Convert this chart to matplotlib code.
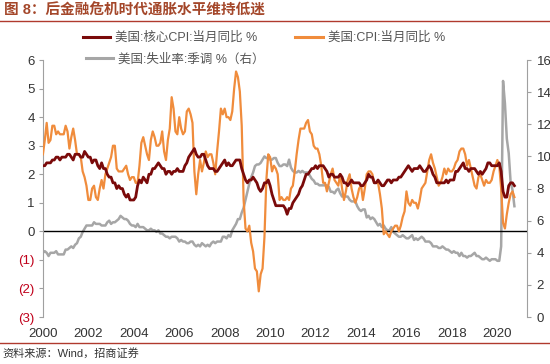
import numpy as np
import matplotlib.pyplot as plt
from matplotlib.lines import Line2D

plt.rcParams['font.family'] = ['Liberation Sans', 'Noto Sans CJK SC']

# monthly data, Jan 2000 - Oct 2020
cpi = [2.7, 3.2, 3.8, 3.1, 3.2, 3.7, 3.7, 3.4, 3.5, 3.4, 3.4, 3.4,
       3.7, 3.5, 2.9, 3.3, 3.6, 3.2, 2.7, 2.7, 2.6, 2.1, 1.9, 1.6,
       1.1, 1.1, 1.5, 1.6, 1.2, 1.1, 1.5, 1.8, 1.5, 2.0, 2.2, 2.4,
       2.6, 3.0, 3.0, 2.2, 2.1, 2.1, 2.1, 2.2, 2.3, 2.0, 1.8, 1.9,
       1.9, 1.7, 1.7, 2.3, 3.1, 3.3, 3.0, 2.7, 2.5, 3.2, 3.5, 3.3,
       3.0, 3.0, 3.1, 3.5, 2.8, 2.5, 3.2, 3.6, 4.7, 4.3, 3.5, 3.4,
       4.0, 3.6, 3.4, 3.5, 4.2, 4.3, 4.1, 3.8, 2.1, 1.3, 2.0, 2.5,
       2.1, 2.4, 2.8, 2.6, 2.7, 2.7, 2.4, 2.0, 2.8, 3.5, 4.3, 4.1,
       4.3, 4.0, 4.0, 3.9, 4.2, 5.0, 5.6, 5.4, 4.9, 3.7, 1.1, 0.1,
       0.0, 0.2, -0.4, -0.7, -1.3, -1.4, -2.1, -1.5, -1.3, -0.2, 1.8, 2.7,
       2.6, 2.1, 2.3, 2.2, 2.0, 1.1, 1.2, 1.1, 1.1, 1.2, 1.1, 1.5,
       1.6, 2.1, 2.7, 3.2, 3.6, 3.6, 3.6, 3.8, 3.9, 3.5, 3.4, 3.0,
       2.9, 2.9, 2.7, 2.3, 1.7, 1.7, 1.4, 1.7, 2.0, 2.2, 1.8, 1.7,
       1.6, 2.0, 1.5, 1.1, 1.4, 1.8, 2.0, 1.5, 1.2, 1.0, 1.2, 1.5,
       1.6, 1.1, 1.5, 2.0, 2.1, 2.1, 2.0, 1.7, 1.7, 1.7, 1.3, 0.8,
       -0.1, 0.0, -0.1, -0.2, 0.0, 0.1, 0.2, 0.2, 0.0, 0.2, 0.5, 0.7,
       1.4, 1.0, 0.9, 1.1, 1.0, 1.0, 0.8, 1.1, 1.5, 1.6, 1.7, 2.1,
       2.5, 2.7, 2.4, 2.2, 1.9, 1.6, 1.7, 1.9, 2.2, 2.0, 2.2, 2.1,
       2.1, 2.2, 2.4, 2.5, 2.8, 2.9, 2.9, 2.7, 2.3, 2.5, 2.2, 1.9,
       1.6, 1.5, 1.9, 2.0, 1.8, 1.6, 1.8, 1.7, 1.7, 1.8, 2.1, 2.3,
       2.5, 2.3, 1.5, 0.3, 0.1, 0.6, 1.0, 1.3, 1.4, 1.2]

core = [2.3, 2.3, 2.4, 2.4, 2.4, 2.5, 2.5, 2.6, 2.6, 2.5, 2.6, 2.6,
        2.6, 2.7, 2.7, 2.6, 2.5, 2.7, 2.7, 2.7, 2.6, 2.6, 2.8, 2.7,
        2.6, 2.6, 2.4, 2.5, 2.5, 2.3, 2.2, 2.4, 2.2, 2.2, 2.0, 1.9,
        1.9, 1.7, 1.7, 1.5, 1.6, 1.5, 1.5, 1.3, 1.2, 1.3, 1.1, 1.1,
        1.1, 1.2, 1.6, 1.8, 1.7, 1.9, 1.8, 1.7, 2.0, 2.0, 2.2, 2.2,
        2.3, 2.4, 2.3, 2.2, 2.2, 2.0, 2.1, 2.1, 2.0, 2.1, 2.1, 2.2,
        2.1, 2.1, 2.1, 2.3, 2.4, 2.6, 2.7, 2.8, 2.9, 2.7, 2.6, 2.6,
        2.7, 2.7, 2.5, 2.3, 2.2, 2.2, 2.2, 2.1, 2.1, 2.2, 2.3, 2.4,
        2.5, 2.3, 2.4, 2.3, 2.3, 2.4, 2.5, 2.5, 2.5, 2.2, 2.0, 1.8,
        1.7, 1.8, 1.8, 1.9, 1.8, 1.7, 1.5, 1.4, 1.5, 1.7, 1.7, 1.8,
        1.6, 1.3, 1.1, 0.9, 0.9, 0.9, 0.9, 0.9, 0.8, 0.6, 0.8, 0.8,
        1.0, 1.1, 1.2, 1.3, 1.5, 1.6, 1.8, 2.0, 2.0, 2.1, 2.2, 2.2,
        2.3, 2.2, 2.3, 2.3, 2.3, 2.2, 2.1, 1.9, 2.0, 2.0, 1.9, 1.9,
        1.9, 2.0, 1.9, 1.7, 1.7, 1.6, 1.7, 1.8, 1.7, 1.7, 1.7, 1.7,
        1.6, 1.6, 1.7, 1.8, 2.0, 1.9, 1.9, 1.7, 1.7, 1.8, 1.7, 1.6,
        1.6, 1.7, 1.8, 1.8, 1.7, 1.8, 1.8, 1.8, 1.9, 1.9, 2.0, 2.1,
        2.2, 2.3, 2.2, 2.1, 2.2, 2.2, 2.2, 2.3, 2.2, 2.1, 2.1, 2.2,
        2.3, 2.2, 2.0, 1.9, 1.7, 1.7, 1.7, 1.7, 1.7, 1.8, 1.7, 1.8,
        1.8, 1.8, 2.1, 2.1, 2.2, 2.3, 2.4, 2.2, 2.2, 2.1, 2.2, 2.2,
        2.2, 2.1, 2.0, 2.1, 2.0, 2.1, 2.2, 2.4, 2.4, 2.3, 2.3, 2.3,
        2.3, 2.4, 2.1, 1.4, 1.2, 1.2, 1.6, 1.7, 1.7, 1.6]

unemp = [4.0, 4.1, 4.0, 3.8, 4.0, 4.0, 4.0, 4.1, 3.9, 3.9, 3.9, 3.9,
         4.2, 4.2, 4.3, 4.4, 4.3, 4.5, 4.6, 4.9, 5.0, 5.3, 5.5, 5.7,
         5.7, 5.7, 5.7, 5.9, 5.8, 5.8, 5.8, 5.7, 5.7, 5.7, 5.9, 6.0,
         5.8, 5.9, 5.9, 6.0, 6.1, 6.3, 6.2, 6.1, 6.1, 6.0, 5.8, 5.7,
         5.7, 5.6, 5.8, 5.6, 5.6, 5.6, 5.5, 5.4, 5.4, 5.5, 5.4, 5.4,
         5.3, 5.4, 5.2, 5.2, 5.1, 5.0, 5.0, 4.9, 5.0, 5.0, 5.0, 4.9,
         4.7, 4.8, 4.7, 4.7, 4.6, 4.6, 4.7, 4.7, 4.5, 4.4, 4.5, 4.4,
         4.6, 4.5, 4.4, 4.5, 4.4, 4.6, 4.7, 4.6, 4.7, 4.7, 4.7, 5.0,
         5.0, 4.9, 5.1, 5.0, 5.4, 5.6, 5.8, 6.1, 6.1, 6.5, 6.8, 7.3,
         7.8, 8.3, 8.7, 9.0, 9.4, 9.5, 9.5, 9.6, 9.8, 10.0, 9.9, 9.9,
         9.8, 9.8, 9.9, 9.9, 9.6, 9.4, 9.4, 9.5, 9.5, 9.4, 9.8, 9.3,
         9.1, 9.0, 9.0, 9.1, 9.0, 9.1, 9.0, 9.0, 9.0, 8.8, 8.6, 8.5,
         8.3, 8.3, 8.2, 8.2, 8.2, 8.2, 8.2, 8.1, 7.8, 7.8, 7.7, 7.9,
         8.0, 7.7, 7.5, 7.6, 7.5, 7.5, 7.3, 7.2, 7.2, 7.2, 6.9, 6.7,
         6.6, 6.7, 6.7, 6.2, 6.3, 6.1, 6.2, 6.1, 5.9, 5.7, 5.8, 5.6,
         5.7, 5.5, 5.4, 5.4, 5.6, 5.3, 5.2, 5.1, 5.0, 5.0, 5.1, 5.0,
         4.9, 4.9, 5.0, 5.1, 4.8, 4.9, 4.8, 4.9, 5.0, 4.9, 4.7, 4.7,
         4.7, 4.6, 4.4, 4.4, 4.4, 4.3, 4.3, 4.4, 4.3, 4.2, 4.2, 4.1,
         4.0, 4.1, 4.0, 4.0, 3.8, 4.0, 3.8, 3.8, 3.7, 3.8, 3.8, 3.9,
         4.0, 3.8, 3.8, 3.7, 3.6, 3.6, 3.7, 3.6, 3.5, 3.6, 3.6, 3.6,
         3.5, 3.5, 4.4, 14.7, 13.3, 11.1, 10.2, 8.4, 7.9, 6.9]

year_ticks = list(range(2000, 2021, 2))
left_ticks = [-3, -2, -1, 0, 1, 2, 3, 4, 5, 6]
left_labels = ['(3)', '(2)', '(1)', '0', '1', '2', '3', '4', '5', '6']
right_ticks = [0, 2, 4, 6, 8, 10, 12, 14, 16]

t = 2000 + np.arange(len(cpi)) / 12.0

c_core = '#7a0a0a'
c_cpi = '#f08c3c'
c_un = '#a6a6a6'
c_axis = '#a0a0a0'
c_text = '#333333'
c_red = '#b03a2e'

fig = plt.figure(figsize=(5.5, 3.64), dpi=100)
ax = fig.add_axes([0.078, 0.129, 0.88, 0.706])
ax2 = ax.twinx()

ax2.plot(t, unemp, color=c_un, lw=1.8, zorder=1)
ax.axhline(0, color='black', lw=1.0, zorder=2)
ax.plot(t, core, color=c_core, lw=2.0, zorder=4)
ax.plot(t, cpi, color=c_cpi, lw=1.6, zorder=3)
ax.set_zorder(ax2.get_zorder() + 1)
ax.patch.set_visible(False)

ax.set_xlim(2000, 2021.3)
ax.set_ylim(-3, 6)
ax2.set_ylim(0, 16)

ax.set_xticks(year_ticks)
ax.set_xticklabels([str(y) for y in year_ticks])
ax.set_yticks(left_ticks)
ax.set_yticklabels(left_labels)
for lbl, v in zip(ax.get_yticklabels(), left_ticks):
    lbl.set_color('#c0001a' if v < 0 else c_text)
ax2.set_yticks(right_ticks)

for a in (ax, ax2):
    for s in ('top', 'bottom'):
        a.spines[s].set_visible(False)
    a.spines['left'].set_color(c_axis)
    a.spines['right'].set_color(c_axis)
ax.spines['right'].set_visible(False)
ax2.spines['left'].set_visible(False)

ax.tick_params(axis='x', length=0, labelsize=9.5, colors=c_text, pad=8)
ax.tick_params(axis='y', length=3, color=c_axis, labelsize=9.5, pad=3)
ax2.tick_params(axis='y', length=3, color=c_axis, labelsize=9.5, labelcolor=c_text, pad=4)

# legend
h1 = Line2D([], [], color=c_core, lw=2.2)
h2 = Line2D([], [], color=c_cpi, lw=2.2)
h3 = Line2D([], [], color=c_un, lw=2.2)
leg1 = fig.legend([h1, h2], ['美国:核心CPI:当月同比 %', '美国:CPI:当月同比 %'],
                  ncol=2, loc='center left', bbox_to_anchor=(0.13, 0.896),
                  frameon=False, fontsize=9, handlelength=2.2, handletextpad=0.4,
                  columnspacing=3.0, labelcolor='#555555')
leg2 = fig.legend([h3], ['美国:失业率:季调 %（右）'],
                  loc='center left', bbox_to_anchor=(0.135, 0.836),
                  frameon=False, fontsize=9, handlelength=2.2, handletextpad=0.4,
                  labelcolor='#555555')

# title and source
fig.text(0.008, 0.972, '图 8：后金融危机时代通胀水平维持低迷', fontsize=10.5,
         fontweight='bold', color='#a4472a', va='center', ha='left')
fig.add_artist(Line2D([0, 1], [0.943, 0.943], color=c_red, lw=1.0))
fig.add_artist(Line2D([0, 1], [0.058, 0.058], color=c_red, lw=1.0))
fig.text(0.005, 0.03, '资料来源：Wind，招商证券', fontsize=8, color='#333333',
         va='center', ha='left')

fig.savefig('out.png', dpi=100)
